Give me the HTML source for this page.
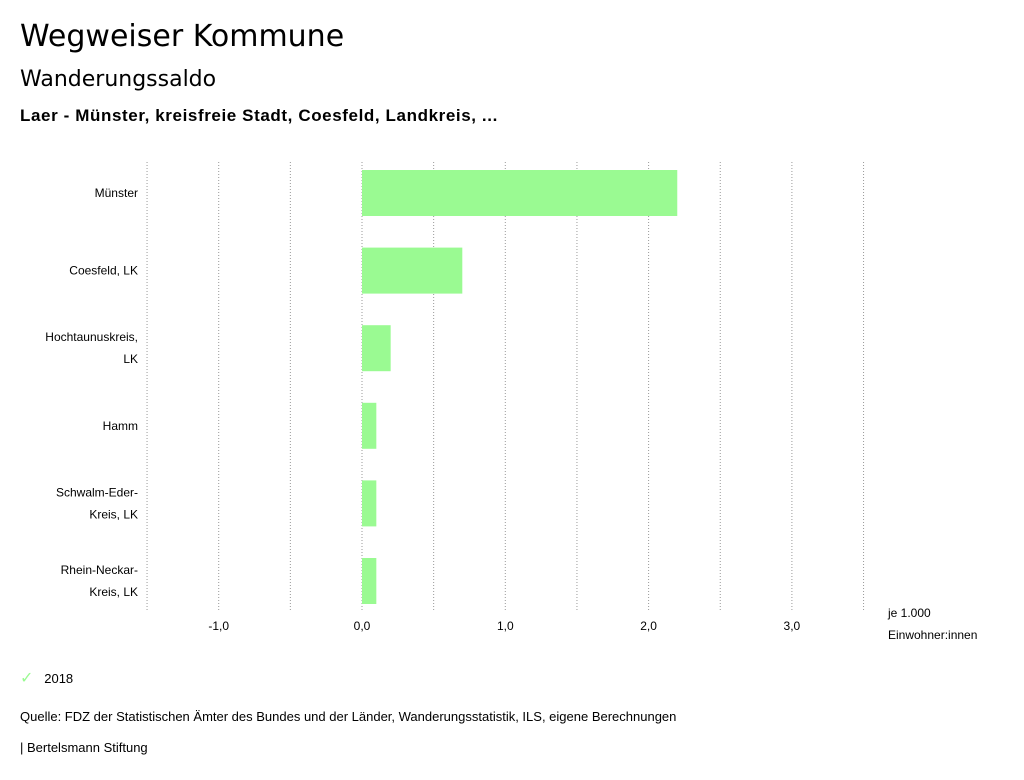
<!DOCTYPE html>
<html><head><meta charset="utf-8"><style>
body{margin:0;width:1024px;height:780px;background:#fff;font-family:"Liberation Sans",sans-serif;position:relative;overflow:hidden}
.t{position:absolute;white-space:nowrap;color:#000}
</style></head><body>
<div class="t" style="left:20px;top:19px;font-size:30px;font-family:'DejaVu Sans',sans-serif">Wegweiser Kommune</div>
<div class="t" style="left:20px;top:67px;font-size:22px;font-family:'DejaVu Sans',sans-serif">Wanderungssaldo</div>
<div class="t" style="left:20px;top:106px;font-size:17px;font-weight:bold;letter-spacing:0.6px">Laer - Münster, kreisfreie Stadt, Coesfeld, Landkreis, ...</div>
<svg id="chart" width="1024" height="780" style="position:absolute;left:0;top:0"></svg>
<div class="t" style="left:20px;top:668px;font-size:13px"><span style="color:#9afa92;font-size:16px">✓</span>&nbsp;&nbsp;&nbsp;2018</div>
<div class="t" style="left:20px;top:709px;font-size:13px">Quelle: FDZ der Statistischen Ämter des Bundes und der Länder, Wanderungsstatistik, ILS, eigene Berechnungen</div>
<div class="t" style="left:20px;top:740px;font-size:13px">| Bertelsmann Stiftung</div>
<script>
const categories=[["Münster"],["Coesfeld, LK"],["Hochtaunuskreis,","LK"],["Hamm"],["Schwalm-Eder-","Kreis, LK"],["Rhein-Neckar-","Kreis, LK"]];
const values=[2.2,0.7,0.2,0.1,0.1,0.1];
const ticks=[-1,0,1,2,3];
const tickLabels=["-1,0","0,0","1,0","2,0","3,0"];
const svg=document.getElementById('chart');const NS="http://www.w3.org/2000/svg";
const x=v=>362+(v)*143.3;
const rowY=i=>193+i*77.6;
function mk(t,a){const e=document.createElementNS(NS,t);for(const k in a)e.setAttribute(k,a[k]);svg.appendChild(e);return e;}
for(let g=-1.5;g<=3.5;g+=0.5){
 const l=mk('line',{x1:x(g),x2:x(g),y1:162,y2:612,stroke:'#999','stroke-dasharray':'1,2'});
 
 
}
ticks.forEach((t,i)=>{
 const e=mk('text',{x:x(t),y:630,'text-anchor':'middle','font-size':12,'font-family':'Liberation Sans'});
 e.textContent=tickLabels[i];
 
 
});
categories.forEach((c,i)=>{
 const y=rowY(i);
 const r=mk('rect',{x:Math.min(x(0),x(values[i])),y:y-23,width:Math.abs(x(values[i])-x(0)),height:46,fill:'#9afa92'});
 
 
 c.forEach((ln,j)=>{
  const e=mk('text',{x:138,y:y+4+(j-(c.length-1)/2)*22,'text-anchor':'end','font-size':12,'font-family':'Liberation Sans'});
  e.textContent=ln;
  
  
 });
});
[["je 1.000",617],["Einwohner:innen",639]].forEach(([s,y])=>{
 const e=mk('text',{x:888,y:y,'font-size':12,'font-family':'Liberation Sans'});
 e.textContent=s;
 
 
});
</script>
</body></html>
